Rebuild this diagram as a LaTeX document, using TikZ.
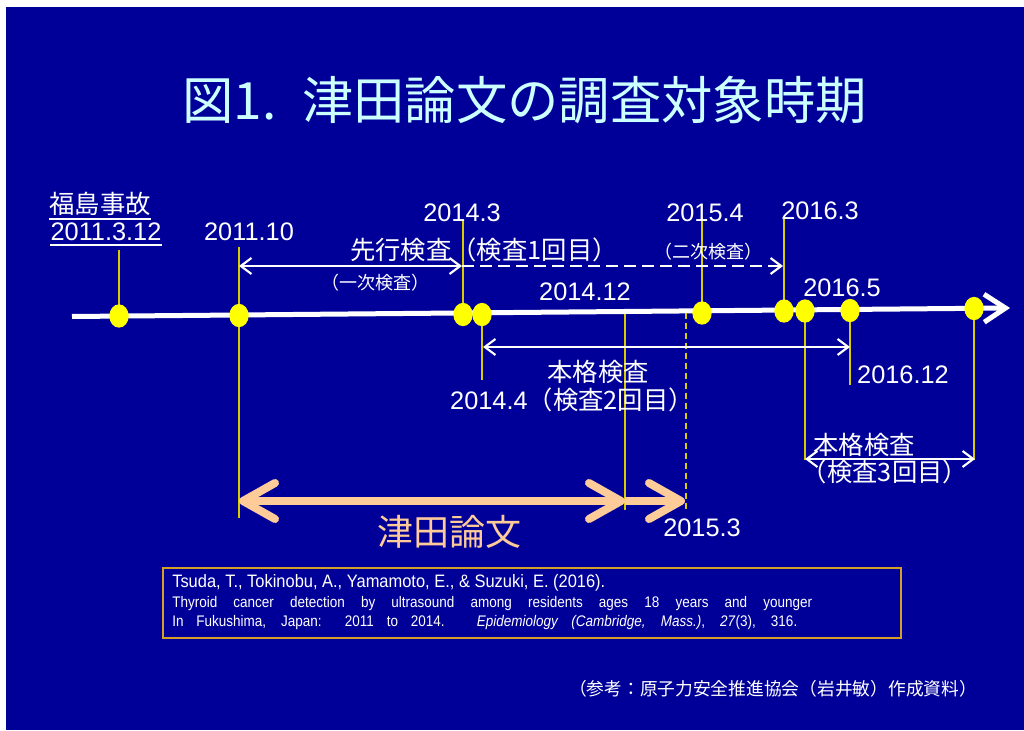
\documentclass[tikz,border=0pt]{standalone}
\usepackage{fontspec}
\usepackage{graphicx}
\setmainfont{Liberation Sans}
\newfontfamily\jp{Noto Sans CJK JP}
\newfontfamily\refn{Liberation Sans}[FakeStretch=0.88]
\usetikzlibrary{arrows.meta,shapes.geometric}
\definecolor{bg}{RGB}{0,0,153}
\definecolor{ttl}{RGB}{204,255,255}
\definecolor{dotY}{RGB}{255,255,0}
\definecolor{lineY}{RGB}{214,204,0}
\definecolor{peach}{RGB}{255,204,153}
\definecolor{gold}{RGB}{214,160,40}
\tikzset{
  tdot/.style={ellipse, fill=dotY, inner sep=0pt, minimum width=14.5pt, minimum height=17.5pt},
  yl/.style={draw=lineY, line width=1.4pt},
  yld/.style={yl, dash pattern=on 4.5pt off 3pt},
  lbl/.style={text=white, inner sep=0pt, font=\fontsize{19}{22}\selectfont},
  jlbl/.style={text=white, inner sep=0pt, font=\jp\fontsize{19}{22}\selectfont},
  jsmall/.style={text=white, inner sep=0pt, font=\jp\fontsize{13.5}{15}\selectfont},
  warr/.style={draw=white, line width=1.6pt, >={Straight Barb[length=8pt,width=12pt]}},
  parr/.style={draw=peach, line width=6pt, >={Straight Barb[length=24pt,width=27pt,round]}},
  reftxt/.style={anchor=west, text=white, inner sep=0pt, font=\refn\fontsize{11.5}{13}\selectfont},
}
\begin{document}
\begin{tikzpicture}[x=0.75pt,y=-0.75pt]
\useasboundingbox (0,0) rectangle (1024,731);
\fill[white] (0,0) rectangle (1024,731);
\fill[bg] (6,7) rectangle (1024,730);

% title
\node[anchor=west, inner sep=0pt, text=ttl, font=\jp\fontsize{38.5}{43}\selectfont] (title) at (182,100)
  {図1.\hspace{0.5em}津田論文の調査対象時期};

% timeline coordinates
\coordinate (tl0) at (72,316.5);
\coordinate (tl1) at (1010,308);
\coordinate (p1) at (119,316);
\coordinate (p2) at (239,315.5);
\coordinate (p3) at (463,314.5);
\coordinate (p4) at (482,314.5);
\coordinate (p5) at (625,313.5);
\coordinate (p6) at (686,313);
\coordinate (p7) at (702,313);
\coordinate (p8) at (784,311);
\coordinate (p9) at (805,311);
\coordinate (p10) at (850,310.5);
\coordinate (p11) at (974,308.5);
% vertical line ends
\coordinate (v1) at (119,250);
\coordinate (v2) at (239,518);
\coordinate (v2t) at (239,247);
\coordinate (v3) at (463,220);
\coordinate (v4) at (482,380);
\coordinate (v5) at (625,510);
\coordinate (v6) at (686,510);
\coordinate (v7) at (702,218);
\coordinate (v8) at (784,218);
\coordinate (v9) at (805,460);
\coordinate (v10) at (850,385);
\coordinate (v11) at (974,460);

% main timeline
\draw[white, line width=3.75pt, -{Straight Barb[length=16pt,width=21pt]}] (tl0) -- (tl1);

% vertical yellow lines
\draw[yl] (v1) -- (p1);
\draw[yl] (v2t) -- (v2);
\draw[yl] (v3) -- (p3);
\draw[yl] (p4) -- (v4);
\draw[yl] (p5) -- (v5);
\draw[yld] (p6) -- (v6);
\draw[yl] (v7) -- (p7);
\draw[yl] (v8) -- (p8);
\draw[yl] (p9) -- (v9);
\draw[yl] (p10) -- (v10);
\draw[yl] (p11) -- (v11);

% dots
\node[tdot] (d1) at (p1) {};
\node[tdot] (d2) at (p2) {};
\node[tdot] (d3) at (p3) {};
\node[tdot] (d4) at (p4) {};
\node[tdot] (d7) at (p7) {};
\node[tdot] (d8) at (p8) {};
\node[tdot] (d9) at (p9) {};
\node[tdot] (d10) at (p10) {};
\node[tdot] (d11) at (p11) {};

% white arrows
\coordinate (a1s) at (239,266);
\coordinate (a1e) at (462,266);
\coordinate (a2e) at (783,266);
\coordinate (a3s) at (483,347);
\coordinate (a3e) at (850,347);
\coordinate (a4s) at (805,459);
\coordinate (a4e) at (975,459);
\draw[warr, <->] (a1s) -- (a1e);
\draw[warr, ->, dash pattern=on 9pt off 4.5pt] (a1e) -- (a2e);
\draw[warr, <->] (a3s) -- (a3e);
\draw[warr, <->] (a4s) -- (a4e);

% peach arrows
\coordinate (b1s) at (239,501);
\coordinate (b1e) at (625,501);
\coordinate (b2e) at (685,501);
\draw[parr, <->] (b1s) -- (b1e);
\draw[parr, ->] (b1e) -- (b2e);

% labels
\node[jlbl] (acc) at (100,204) {福島事故};
\node[lbl] (l1) at (106,232) {2011.3.12};
\draw[white, line width=1.3pt] ([yshift=-2pt]acc.south west) -- ([yshift=-2pt]acc.south east);
\draw[white, line width=1.3pt] ([yshift=-3pt]l1.south west) -- ([yshift=-3pt]l1.south east);
\node[lbl] (l2) at (249,232) {2011.10};
\node[lbl] (l3) at (462,213) {2014.3};
\node[jlbl] (sensho) at (484,250) {先行検査（検査1回目）};
\node[jsmall] (ichiji) at (375,283) {（一次検査）};
\node[lbl] (l4) at (705,213) {2015.4};
\node[jsmall] (niji) at (708,252) {（二次検査）};
\node[lbl] (l5) at (820,211) {2016.3};
\node[lbl] (l6) at (585,292) {2014.12};
\node[lbl] (l7) at (842,288) {2016.5};
\node[lbl] (l8) at (903,375) {2016.12};
\node[jlbl] (hk2) at (598,372) {本格検査};
\node[lbl] (l9) at (572,400) {2014.4{\jp （検査2回目）}};
\node[jlbl] (hk3) at (864,445) {本格検査};
\node[jlbl] (k3) at (885,472) {（検査3回目）};
\node[text=peach, inner sep=0pt, font=\jp\fontsize{27}{30}\selectfont] (tsuda) at (449,532) {津田論文};
\node[lbl] (l10) at (702,528) {2015.3};

% reference box
\node[draw=gold, line width=1.5pt, minimum width=553.5pt, minimum height=52.5pt, inner sep=0pt] (refbox) at (532,603) {};
\node[anchor=west, text=white, inner sep=0pt] (r1) at (172,583)
  {\resizebox{324.75pt}{\height}{\fontsize{13.5}{15}\selectfont Tsuda, T., Tokinobu, A., Yamamoto, E., \& Suzuki, E. (2016).}};
\node[reftxt] (r2) at (172,604)
  {\makebox[480pt][s]{Thyroid cancer detection by ultrasound among residents ages 18 years and younger}};
\node[reftxt] (r3) at (172,623)
  {\makebox[468.75pt][s]{In Fukushima, Japan: 2011 to 2014. \textit{Epidemiology} \textit{(Cambridge, Mass.)}, \textit{27}(3), 316.}};

% note
\node[text=white, inner sep=0pt, font=\jp\fontsize{13.3}{15}\selectfont] (note) at (773,689) {（参考：原子力安全推進協会（岩井敏）作成資料）};
\end{tikzpicture}
\end{document}
